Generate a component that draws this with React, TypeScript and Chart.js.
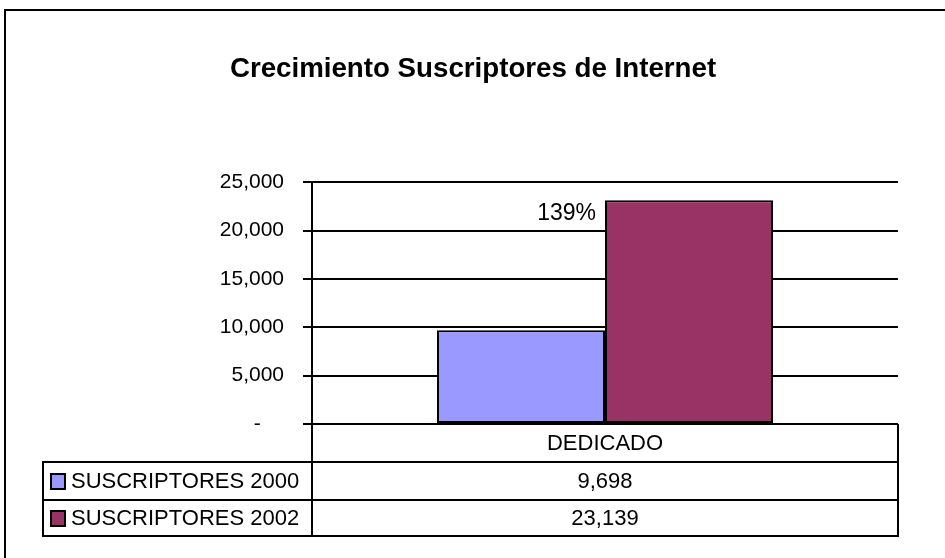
import React, { useEffect, useRef } from "react";
import { Chart, registerables } from "chart.js";

Chart.register(...registerables);

const TITLE = "Crecimiento Suscriptores de Internet";
const categories = ["DEDICADO"];
const seriesNames = ["SUSCRIPTORES 2000", "SUSCRIPTORES 2002"];
const subs2000 = [9698];
const subs2002 = [23139];
const growthLabels = ["", "139%"];
const seriesColors = ["#9999FF", "#993366"];
const yMax = 25000;
const yStep = 5000;

const FONT = "'Liberation Sans', Arial, Helvetica, sans-serif";

const fmt = (v: number) => v.toLocaleString("en-US");

const tablePlugin = {
  id: "frameAndTable",
  afterDraw(chart: any) {
    const ctx = chart.ctx as CanvasRenderingContext2D;
    const { left, right, bottom } = chart.chartArea;
    const xs = chart.scales.x;
    const W = chart.width;
    const H = chart.height;
    ctx.save();
    ctx.strokeStyle = "#000";
    ctx.lineWidth = 2;
    // outer frame
    ctx.beginPath();
    ctx.moveTo(5, H);
    ctx.lineTo(5, 10);
    ctx.lineTo(W, 10);
    ctx.stroke();

    // data table
    const rowH = 38;
    const tLeft = 43;
    const y0 = bottom;
    const y1 = y0 + rowH;
    const nRows = chart.data.datasets.length;
    const yEnd = y1 + rowH * nRows - 2;
    ctx.beginPath();
    ctx.moveTo(left, y0);
    ctx.lineTo(left, yEnd);
    ctx.moveTo(right, y0);
    ctx.lineTo(right, yEnd);
    ctx.moveTo(tLeft, y1);
    ctx.lineTo(right, y1);
    for (let i = 1; i < nRows; i++) {
      ctx.moveTo(tLeft, y1 + rowH * i);
      ctx.lineTo(right, y1 + rowH * i);
    }
    ctx.moveTo(tLeft - 1, yEnd);
    ctx.lineTo(right + 1, yEnd);
    ctx.moveTo(tLeft, y1 - 1);
    ctx.lineTo(tLeft, yEnd);
    ctx.stroke();

    ctx.fillStyle = "#000";
    ctx.font = `22px ${FONT}`;
    ctx.textBaseline = "middle";
    ctx.textAlign = "center";
    chart.data.labels.forEach((lab: string, ci: number) => {
      const cx = xs.getPixelForValue(ci);
      ctx.fillText(lab, cx, y0 + rowH / 2 + 1);
      chart.data.datasets.forEach((ds: any, i: number) => {
        const top = y1 + rowH * i;
        const h = i === nRows - 1 ? yEnd - top : rowH;
        ctx.fillText(fmt(ds.data[ci]), cx, top + h / 2 + 1);
      });
    });
    chart.data.datasets.forEach((ds: any, i: number) => {
      const top = y1 + rowH * i;
      const h = i === nRows - 1 ? yEnd - top : rowH;
      const cy = top + h / 2;
      ctx.fillStyle = ds.backgroundColor;
      ctx.fillRect(51, cy - 7, 14, 15);
      ctx.lineWidth = 2;
      ctx.strokeRect(51, cy - 7, 14, 15);
      ctx.fillStyle = "#000";
      ctx.textAlign = "left";
      ctx.fillText(ds.label, 71, cy + 1);
    });

    // growth label next to bar
    ctx.font = `23px ${FONT}`;
    ctx.textAlign = "right";
    chart.data.datasets.forEach((ds: any, i: number) => {
      const meta = chart.getDatasetMeta(i);
      meta.data.forEach((el: any) => {
        const txt = growthLabels[i];
        if (!txt) return;
        const p = el.getProps(["x", "y", "width"], true);
        ctx.fillText(txt, p.x - p.width / 2 - 9, p.y + 13);
      });
    });
    ctx.restore();
  },
};

export default function App() {
  const ref = useRef<HTMLCanvasElement | null>(null);
  useEffect(() => {
    if (!ref.current) return;
    const chart = new Chart(ref.current, {
      type: "bar",
      data: {
        labels: categories,
        datasets: [
          {
            label: seriesNames[0],
            data: subs2000,
            backgroundColor: seriesColors[0],
            borderColor: "#000",
            borderWidth: 2,
            borderSkipped: false,
            categoryPercentage: 0.5734,
            barPercentage: 1,
          },
          {
            label: seriesNames[1],
            data: subs2002,
            backgroundColor: seriesColors[1],
            borderColor: "#000",
            borderWidth: 2,
            borderSkipped: false,
            categoryPercentage: 0.5734,
            barPercentage: 1,
          },
        ],
      },
      options: {
        responsive: false,
        animation: false,
        layout: { padding: { left: 48, right: 47, top: 0, bottom: 134 } },
        plugins: {
          legend: { display: false },
          tooltip: { enabled: false },
          title: {
            display: true,
            text: TITLE,
            color: "#000",
            font: { family: FONT, size: 27.7, weight: "bold" },
            padding: { top: 53, bottom: 96 },
          },
        },
        scales: {
          x: { display: false },
          y: {
            min: 0,
            max: yMax,
            afterFit: (s: any) => {
              s.width = 264;
            },
            ticks: {
              stepSize: yStep,
              color: "#000",
              padding: 19,
              font: { family: FONT, size: 21 },
              callback: (v: any) =>
                Number(v) === 0 ? "-\u00a0\u00a0\u00a0\u00a0" : fmt(Number(v)),
            },
            grid: {
              color: "#000",
              lineWidth: 2,
              drawTicks: true,
              tickLength: 9,
            },
            border: { display: true, color: "#000", width: 2 },
          },
        },
      },
      plugins: [tablePlugin],
    });
    return () => chart.destroy();
  }, []);
  return (
    <div style={{ position: "absolute", left: 0, top: 0, width: 945, height: 558, background: "#fff" }}>
      <canvas ref={ref} width={945} height={558} style={{ display: "block" }} />
    </div>
  );
}
